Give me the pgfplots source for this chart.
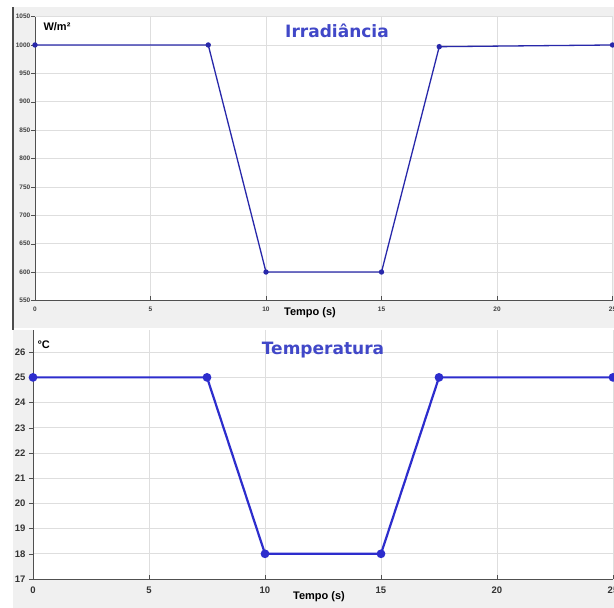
\documentclass[border=0pt]{standalone}
\usepackage{pgfplots}
\pgfplotsset{compat=1.18}
\usepackage{fontspec}
\setmainfont{Liberation Sans}
\newfontfamily\titlefont{DejaVu Sans}
\definecolor{panelgray}{RGB}{240,240,240}
\definecolor{gridgray}{RGB}{222,222,222}
\definecolor{axisgray}{RGB}{80,80,80}
\definecolor{lineblue}{RGB}{40,40,170}
\definecolor{lineblue2}{RGB}{45,45,205}
\definecolor{titleblue}{RGB}{65,72,200}

\pgfplotstableread{
t irr
0 1000
7.5 1000
10 600
15 600
17.5 997
25 1000
}\irrdata
\pgfplotstableread{
t temp
0 25
7.5 25
10 18
15 18
17.5 25
25 25
}\tempdata

\pgfplotsset{
  panel/.style={
    scale only axis,
    anchor=south west,
    xmin=0, xmax=25,
    xtick={0,5,10,15,20,25},
    axis x line*=bottom,
    axis y line*=left,
    axis line style={axisgray,-},
    axis background/.style={fill=white},
    grid=major,
    major grid style={gridgray,line width=0.6pt},
    xtick align=inside,
    ytick align=outside,
    major tick length=4pt,
    tick style={axisgray},
    /pgf/number format/assume math mode=true,
    /pgf/number format/1000 sep={},
    clip=false,
  }
}

\begin{document}
\begin{tikzpicture}[x=1pt,y=1pt]
\path[use as bounding box] (0,0) rectangle (614,608);
\fill[white] (0,0) rectangle (614,608);
% screenshot panels
\fill[panelgray] (13,280) rectangle (614,601);
\fill[panelgray] (13,0) rectangle (614,278);
\fill[white] (13,278) rectangle (614,280);
\draw[black!70,line width=2pt] (13,278) -- (13,601);

\begin{axis}[panel,
  at={(35pt,307.6pt)},
  width=577.5pt, height=283.8pt,
  ymin=550, ymax=1050,
  ytick={550,600,...,1050},
  tick label style={font=\fontsize{6.5}{8}\selectfont\bfseries, text=black!75},
  yticklabel style={inner xsep=0.5pt},
  xticklabel style={yshift=-3pt},
]
\addplot[lineblue, line width=1.3pt, mark=*, mark size=2pt] table[x=t,y=irr] {\irrdata};
\end{axis}

\begin{axis}[panel,
  at={(33pt,29pt)},
  width=580pt, height=249.5pt,
  ymin=17, ymax=26.9,
  ytick={17,18,...,26},
  tick label style={font=\fontsize{9.5}{11}\selectfont\bfseries, text=black!80},
  xticklabel style={yshift=-4pt},
]
\addplot[lineblue2, line width=2.2pt, mark=*, mark size=3.2pt] table[x=t,y=temp] {\tempdata};
\end{axis}

\node[anchor=west,font=\fontsize{11}{13}\selectfont\bfseries] at (40,581) {W/m²};
\node[font=\titlefont\fontsize{17}{20}\selectfont\bfseries,text=titleblue] at (337,577) {Irradiância};
\node[font=\fontsize{11}{13}\selectfont\bfseries] at (310,295) {Tempo (s)};

\node[anchor=west,font=\fontsize{11}{13}\selectfont\bfseries] at (34,263) {°C};
\node[font=\titlefont\fontsize{17}{20}\selectfont\bfseries,text=titleblue] at (323,258) {Temperatura};
\node[font=\fontsize{11}{13}\selectfont\bfseries] at (319,11) {Tempo (s)};
\end{tikzpicture}
\end{document}
